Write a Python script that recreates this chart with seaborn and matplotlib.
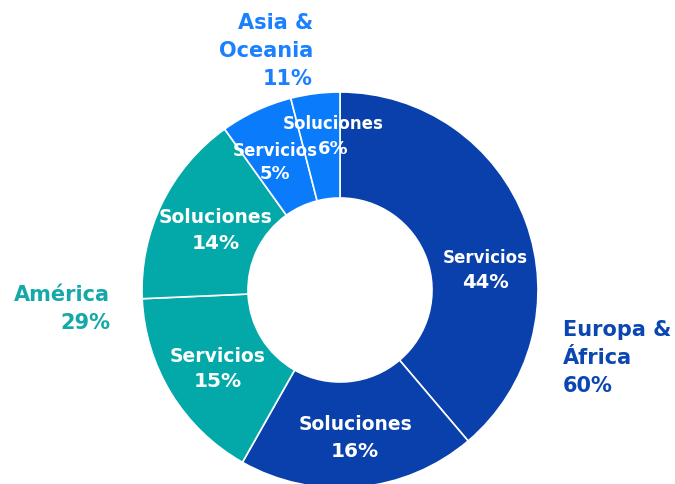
import matplotlib
matplotlib.use('Agg')
import matplotlib.pyplot as plt
import seaborn as sns

# slices, clockwise from 12 o'clock
segments = ['Servicios', 'Soluciones', 'Servicios', 'Soluciones', 'Servicios', 'Soluciones']
shares = [44, 16, 15, 14, 5, 6]
# angular size of each wedge as drawn in the picture (%)
wedge_sizes = [38.8, 19.4, 16.1, 15.8, 5.9, 4.0]
slice_region = [0, 0, 1, 1, 2, 2]

region_names = ['Europa &\nÁfrica', 'América', 'Asia &\nOceania']
region_shares = [60, 29, 11]

sns.set_theme(style='white')
plt.rcParams['font.family'] = ['DejaVu Sans']

fill_colors = sns.color_palette(['#0a40ab', '#03a8a8', '#0a7cfb'])
text_colors = ['#0b46b2', '#14a8a8', '#1a80ff']

W, H = 675, 484
cx, cy, R = 340, 290, 198

fig = plt.figure(figsize=(W / 100, H / 100), dpi=100)
ax = fig.add_axes([(cx - R) / W, (H - cy - R) / H, 2 * R / W, 2 * R / H])

ax.pie(wedge_sizes, colors=[fill_colors[r] for r in slice_region],
       startangle=90, counterclock=False, radius=1,
       wedgeprops=dict(width=1 - 92 / R, edgecolor='white', linewidth=1.2))
ax.set_xlim(-1, 1)
ax.set_ylim(-1, 1)
ax.axis('off')


def fx(px):
    return px / W


def fy(py):
    return 1 - py / H


# inner labels: x centre, baseline of name, baseline of percent (pixels)
label_pos = [(485, 263, 288), (355, 430, 457), (218, 362, 387),
             (216, 223, 249), (275, 156, 179), (333, 129, 154)]
name_sizes = [12, 13.5, 13.5, 13.5, 12, 12]
pct_sizes = [14, 14.5, 14.5, 14.5, 13, 13]
for name, val, (px, ny, py), ns, ps in zip(segments, shares, label_pos, name_sizes, pct_sizes):
    fig.text(fx(px), fy(ny), name, ha='center', va='baseline',
             color='white', fontsize=ns, fontweight='bold')
    fig.text(fx(px), fy(py), '{v}%'.format(v=val), ha='center', va='baseline',
             color='white', fontsize=ps, fontweight='bold')

# region labels: anchor x, baseline of last line (pixels)
region_pos = [(563, 392, 'left'), (110, 329, 'right'), (313, 85, 'right')]
for name, val, col, (px, py, ha) in zip(region_names, region_shares, text_colors, region_pos):
    fig.text(fx(px), fy(py), '{n}\n{v}%'.format(n=name, v=val), ha=ha, va='baseline',
             multialignment=ha, color=col, fontsize=15, fontweight='bold', linespacing=1.5)

plt.savefig('out.png', dpi=100)
